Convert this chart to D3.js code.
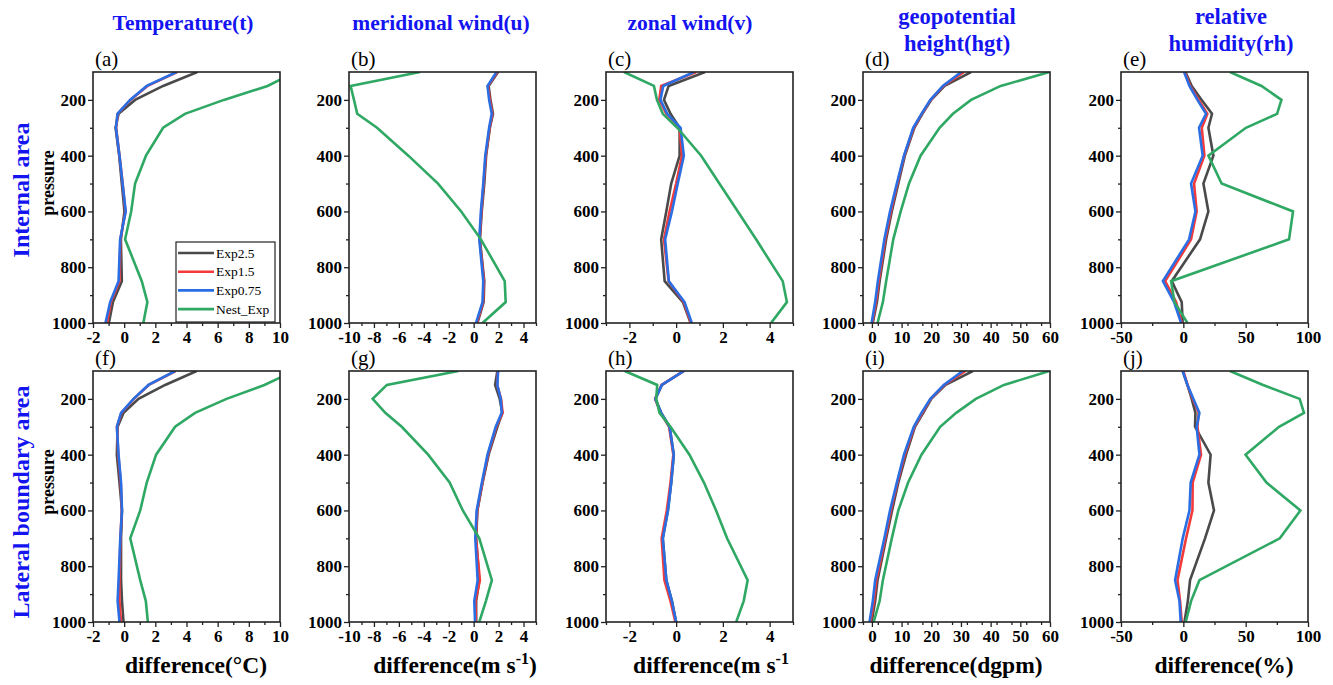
<!DOCTYPE html>
<html><head><meta charset="utf-8">
<script src="https://cdn.jsdelivr.net/npm/d3@7"></script>
<style>body{margin:0;background:#fff}svg{display:block}</style>
</head><body>
<svg id="c" width="1333" height="685"></svg>
<script>
// ---------- data ----------
const pressure = [100,150,200,250,300,400,500,600,700,850,925,1000];
const seriesNames = ["Exp2.5","Exp1.5","Exp0.75","Nest_Exp"];

// Internal area
const t_int_exp25 = [4.7,2.5,0.7,-0.36,-0.55,-0.32,-0.15,0.02,-0.21,-0.15,-0.72,-0.98];
const t_int_exp15 = [3.4,1.5,0.4,-0.42,-0.52,-0.3,-0.1,0.08,-0.24,-0.3,-0.85,-1.1];
const t_int_exp075 = [3.36,1.45,0.38,-0.43,-0.53,-0.3,-0.1,0.1,-0.26,-0.36,-0.9,-1.2];
const t_int_nest = [11.0,9.2,6.4,3.9,2.5,1.4,0.7,0.45,0.06,1.13,1.49,1.23];

const u_int_exp25 = [1.96,1.2,1.35,1.55,1.3,1.0,0.85,0.65,0.5,0.85,0.8,0.3];
const u_int_exp15 = [1.9,1.15,1.3,1.5,1.28,0.97,0.8,0.62,0.48,0.82,0.76,0.25];
const u_int_exp075 = [1.83,1.11,1.24,1.45,1.24,0.93,0.77,0.58,0.45,0.77,0.71,0.19];
const u_int_nest = [-4.3,-9.87,-9.6,-9.34,-7.75,-5.24,-2.86,-1.0,0.58,2.49,2.57,0.71];

const v_int_exp25 = [1.24,-0.32,-0.52,-0.24,0.15,0.15,-0.21,-0.42,-0.64,-0.49,0.29,0.62];
const v_int_exp15 = [0.86,-0.64,-0.72,-0.42,0.15,0.25,0.0,-0.28,-0.52,-0.32,0.33,0.64];
const v_int_exp075 = [0.76,-0.55,-0.67,-0.38,0.19,0.33,0.07,-0.18,-0.47,-0.31,0.36,0.67];
const v_int_nest = [-2.23,-0.95,-0.82,-0.57,0.05,1.07,1.85,2.64,3.42,4.56,4.74,4.06];

const h_int_exp25 = [33.4,24.5,20.0,17.0,14.3,11.1,8.9,6.7,4.8,2.6,1.7,0.3];
const h_int_exp15 = [31.0,24.1,19.8,16.8,14.1,10.9,8.6,6.4,4.5,2.3,1.4,0.1];
const h_int_exp075 = [30.1,23.9,19.7,16.7,13.9,10.8,8.4,6.1,4.2,2.0,1.1,-0.1];
const h_int_nest = [59.8,43.4,33.4,27.3,22.8,16.4,12.5,9.7,7.2,4.8,3.7,1.9];

const r_int_exp25 = [1.7,6.7,14.7,23.0,20.1,24.1,16.1,20.1,13.4,-9.3,-1.3,-0.5];
const r_int_exp15 = [1.1,5.4,12.3,19.3,14.8,16.9,8.6,10.7,6.2,-14.6,-5.8,-1.3];
const r_int_exp075 = [0.6,4.9,11.3,18.2,12.6,15.5,6.2,9.7,4.6,-16.4,-7.4,-1.8];
const r_int_nest = [37.4,62.7,78.7,75.2,50.2,20.1,30.7,88.0,84.8,-9.8,-7.1,3.3];

// Lateral boundary area
const t_lat_exp25 = [4.65,2.63,0.92,-0.04,-0.42,-0.47,-0.3,-0.14,-0.2,-0.2,-0.14,-0.04];
const t_lat_exp15 = [3.3,1.58,0.62,-0.18,-0.46,-0.38,-0.22,-0.15,-0.24,-0.3,-0.3,-0.2];
const t_lat_exp075 = [3.27,1.56,0.6,-0.2,-0.47,-0.36,-0.2,-0.14,-0.25,-0.36,-0.42,-0.3];
const t_lat_nest = [10.9,9.0,6.57,4.55,3.27,2.05,1.45,1.03,0.39,1.03,1.39,1.52];

const u_lat_exp25 = [1.9,1.72,2.09,2.3,1.9,1.2,0.72,0.3,0.2,0.45,0.2,0.2];
const u_lat_exp15 = [1.95,1.88,2.2,2.32,1.82,1.15,0.7,0.28,0.18,0.5,0.15,0.18];
const u_lat_exp075 = [1.96,1.9,2.17,2.25,1.77,1.11,0.66,0.24,0.13,0.32,0.05,0.11];
const u_lat_nest = [-1.22,-6.96,-8.1,-7.09,-5.77,-3.65,-1.93,-0.87,0.45,1.46,0.98,0.45];

const v_lat_exp25 = [0.33,-0.61,-0.89,-0.64,-0.28,-0.1,-0.21,-0.35,-0.57,-0.42,-0.18,0.0];
const v_lat_exp15 = [0.33,-0.62,-0.9,-0.66,-0.3,-0.12,-0.24,-0.4,-0.62,-0.5,-0.24,-0.03];
const v_lat_exp075 = [0.33,-0.61,-0.89,-0.64,-0.28,-0.1,-0.21,-0.35,-0.57,-0.42,-0.18,0.0];
const v_lat_nest = [-2.2,-0.81,-0.85,-0.71,-0.24,0.57,1.19,1.71,2.18,3.06,2.89,2.57];

const h_lat_exp25 = [34.0,24.8,20.0,17.3,14.5,11.5,8.9,6.8,4.8,1.9,1.1,-0.1];
const h_lat_exp15 = [31.5,24.4,19.8,17.0,14.3,11.1,8.6,6.4,4.5,1.5,0.7,-0.5];
const h_lat_exp075 = [30.6,24.2,19.7,16.7,14.1,10.8,8.4,6.1,4.2,1.1,0.3,-0.8];
const h_lat_nest = [59.8,44.5,35.0,28.4,23.0,16.7,12.2,8.9,6.7,3.7,2.6,0.6];

const r_lat_exp25 = [-0.5,3.3,6.7,9.7,9.4,21.9,20.1,24.6,17.4,5.4,3.6,0.9];
const r_lat_exp15 = [0.0,3.3,7.5,12.3,11.3,14.2,7.5,7.3,2.2,-4.7,-2.6,-1.3];
const r_lat_exp075 = [-0.5,3.3,8.1,12.9,10.7,12.9,5.9,4.9,-0.5,-6.6,-3.1,-2.1];
const r_lat_nest = [37.4,64.0,93.3,96.8,76.8,49.9,66.7,93.9,77.4,12.9,6.2,1.9];

// axis tick labels
const tTicks = [-2,0,2,4,6,8,10];
const uTicks = [-10,-8,-6,-4,-2,0,2,4];
const vTicks = [-2,0,2,4];
const hTicks = [0,10,20,30,40,50,60];
const rTicks = [-50,0,50,100];
const pTicks = [200,400,600,800,1000];

const colTitles = [["Temperature(t)"],["meridional wind(u)"],["zonal wind(v)"],["geopotential","height(hgt)"],["relative","humidity(rh)"]];
const rowTitles = ["Internal area","Lateral boundary area"];
const panelLetters = ["(a)","(b)","(c)","(d)","(e)","(f)","(g)","(h)","(i)","(j)"];

// ---------- layout ----------
const colors = ["#4a4a4a","#f23a3a","#2a6ee4","#2fa864"];
const lefts = [93,349,606,863,1121];
const pw = 187;
const tops = [72,371];
const ph = 251;
const serif = "'Liberation Serif','Times New Roman',serif";
const titleX = [183,441,690,957,1231];
const xTitleX = [196,455,711,956,1224];

const cols = [
  {dom:[-2,10], ticks:tTicks, minor:1, data:[[t_int_exp25,t_int_exp15,t_int_exp075,t_int_nest],[t_lat_exp25,t_lat_exp15,t_lat_exp075,t_lat_nest]], xtitle:["difference(°C)",null]},
  {dom:[-10,5], ticks:uTicks, minor:1, data:[[u_int_exp25,u_int_exp15,u_int_exp075,u_int_nest],[u_lat_exp25,u_lat_exp15,u_lat_exp075,u_lat_nest]], xtitle:["difference(m s","-1",")"]},
  {dom:[-3,5], ticks:vTicks, minor:1, data:[[v_int_exp25,v_int_exp15,v_int_exp075,v_int_nest],[v_lat_exp25,v_lat_exp15,v_lat_exp075,v_lat_nest]], xtitle:["difference(m s","-1",""]},
  {dom:[-3,60], ticks:hTicks, minor:5, data:[[h_int_exp25,h_int_exp15,h_int_exp075,h_int_nest],[h_lat_exp25,h_lat_exp15,h_lat_exp075,h_lat_nest]], xtitle:["difference(dgpm)",null]},
  {dom:[-50,100], ticks:rTicks, minor:25, data:[[r_int_exp25,r_int_exp15,r_int_exp075,r_int_nest],[r_lat_exp25,r_lat_exp15,r_lat_exp075,r_lat_nest]], xtitle:["difference(%)",null]}
];

const svg = d3.select("#c");
const defs = svg.append("defs");

cols.forEach((c,ci)=>{
  const x = d3.scaleLinear().domain(c.dom).range([lefts[ci], lefts[ci]+pw]);
  [0,1].forEach(ri=>{
    const y = d3.scaleLinear().domain([100,1000]).range([tops[ri], tops[ri]+ph]);
    const id = "clip"+ci+"_"+ri;
    defs.append("clipPath").attr("id",id).append("rect")
      .attr("x",lefts[ci]).attr("y",tops[ri]).attr("width",pw).attr("height",ph);
    const g = svg.append("g");
    const line = d3.line().x(d=>x(d[0])).y(d=>y(d[1]));
    const lg = g.append("g").attr("clip-path","url(#"+id+")");
    c.data[ri].forEach((arr,si)=>{
      lg.append("path").datum(arr.map((v,i)=>[v,pressure[i]]))
        .attr("d",line).attr("fill","none").attr("stroke",colors[si])
        .attr("stroke-width",2.6).attr("stroke-linejoin","miter");
    });
    const xMinor = d3.range(c.dom[0], c.dom[1]+1e-9, c.minor).filter(v=>!c.ticks.includes(v));
    const yMinor = [300,500,700,900];
    const xa = g.append("g").attr("transform",`translate(0,${tops[ri]+ph})`)
      .call(d3.axisBottom(x).tickValues(c.ticks).tickSize(5).tickPadding(3).tickFormat(d3.format("d")));
    const xm = g.append("g").attr("transform",`translate(0,${tops[ri]+ph})`)
      .call(d3.axisBottom(x).tickValues(xMinor).tickSize(3).tickFormat(""));
    const ya = g.append("g").attr("transform",`translate(${lefts[ci]},0)`)
      .call(d3.axisLeft(y).tickValues(pTicks).tickSize(5).tickPadding(2).tickFormat(d3.format("d")));
    const ym = g.append("g").attr("transform",`translate(${lefts[ci]},0)`)
      .call(d3.axisLeft(y).tickValues(yMinor).tickSize(3).tickFormat(""));
    [xa,xm,ya,ym].forEach(a=>{
      a.select(".domain").remove();
      a.selectAll("line").attr("stroke","#222").attr("stroke-width",1.3);
      a.selectAll("text").attr("font-family",serif).attr("font-weight","bold")
        .attr("font-size",17).attr("fill","#000");
    });
    xa.selectAll("text").text(d=> d<0 ? "-"+Math.abs(d) : d);
    g.append("rect").attr("x",lefts[ci]).attr("y",tops[ri]).attr("width",pw).attr("height",ph)
      .attr("fill","none").attr("stroke","#222").attr("stroke-width",1.6);
    svg.append("text").attr("x",lefts[ci]+2).attr("y",tops[ri]-6)
      .attr("font-family",serif).attr("font-size",21).attr("fill","#000")
      .text(panelLetters[ri*5+ci]);
  });
  const xt = svg.append("text").attr("x",xTitleX[ci]).attr("y",673)
    .attr("text-anchor","middle").attr("font-family",serif).attr("font-weight","bold")
    .attr("font-size",23.5).attr("fill","#000");
  xt.append("tspan").text(c.xtitle[0]);
  if(c.xtitle[1]){
    xt.append("tspan").attr("dy",-9).attr("font-size",16).text(c.xtitle[1]);
    if(c.xtitle[2]) xt.append("tspan").attr("dy",9).text(c.xtitle[2]);
  }
  const ct = colTitles[ci];
  ct.forEach((s,k)=>{
    svg.append("text").attr("x", titleX[ci])
      .attr("y", ct.length===1 ? 30 : 24+k*27)
      .attr("text-anchor","middle").attr("font-family",serif).attr("font-weight","bold")
      .attr("font-size",ct.length===1 ? 21.5 : 22.5).attr("fill","#1414f0").text(s);
  });
});

// row titles and pressure labels
const rowCY = [190,502];
const presCY = [183,482];
rowTitles.forEach((s,ri)=>{
  svg.append("text").attr("transform",`translate(29,${rowCY[ri]}) rotate(-90)`)
    .attr("text-anchor","middle").attr("font-family",serif).attr("font-weight","bold")
    .attr("font-size",24).attr("fill","#1414f0").text(s);
  svg.append("text").attr("transform",`translate(54,${presCY[ri]}) rotate(-90)`)
    .attr("text-anchor","middle").attr("font-family",serif).attr("font-weight","bold")
    .attr("font-size",18).attr("fill","#000").text("pressure");
});

// legend in panel (a)
const lgx = 176, lgy = 242;
const leg = svg.append("g");
leg.append("rect").attr("x",lgx).attr("y",lgy).attr("width",99).attr("height",80)
  .attr("fill","#fff").attr("stroke","#222").attr("stroke-width",1.2);
seriesNames.forEach((s,i)=>{
  const yy = lgy+11+i*18.7;
  leg.append("line").attr("x1",lgx+2).attr("x2",lgx+38).attr("y1",yy).attr("y2",yy)
    .attr("stroke",colors[i]).attr("stroke-width",2.6);
  leg.append("text").attr("x",lgx+40).attr("y",yy+4.5).attr("font-family",serif)
    .attr("font-size",13.5).attr("fill","#000").text(s);
});
</script>
</body></html>
